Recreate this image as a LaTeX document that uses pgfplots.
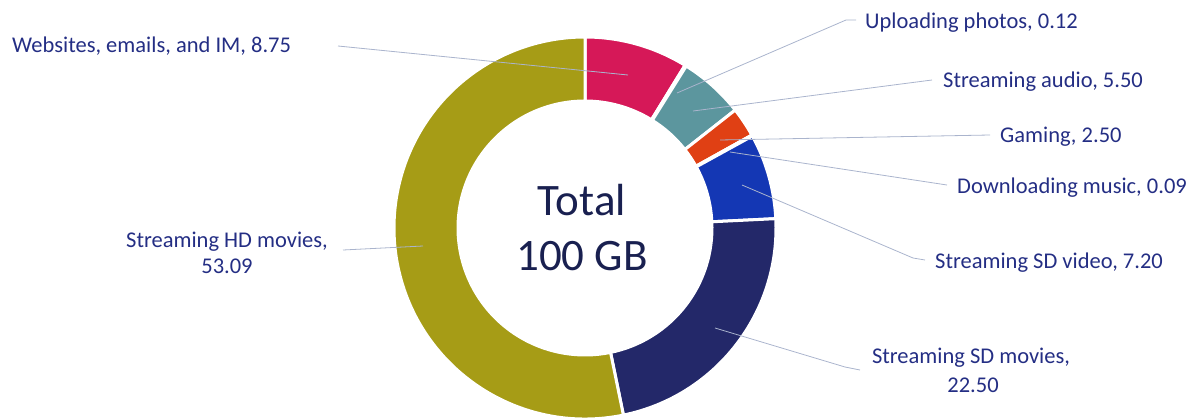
\documentclass[border=0pt]{standalone}
\usepackage{fontspec}
\setmainfont{Carlito}
\usepackage{pgfplots}
\usepackage{pgfplotstable}
\pgfplotsset{compat=1.18}

\definecolor{cweb}{RGB}{214,24,88}
\definecolor{cupl}{RGB}{90,110,160}
\definecolor{caud}{RGB}{92,150,158}
\definecolor{cgam}{RGB}{224,64,20}
\definecolor{cdl}{RGB}{40,60,150}
\definecolor{csdv}{RGB}{20,55,180}
\definecolor{csdm}{RGB}{35,40,105}
\definecolor{chd}{RGB}{166,156,22}
\definecolor{labc}{RGB}{36,46,132}
\definecolor{ctr}{RGB}{25,32,80}
\definecolor{leader}{RGB}{170,180,205}

% share of the 100 GB, clockwise from 12 o'clock
\pgfplotstableread{
value col
8.75  cweb
0.12  cupl
5.50  caud
2.50  cgam
0.09  cdl
7.20  csdv
22.50 csdm
53.09 chd
}\usage

\newcommand\lab{\fontsize{22.5bp}{24bp}\selectfont\color{labc}}

\begin{document}
\begin{tikzpicture}
\begin{axis}[
  name=donut,
  width=1198bp, height=419bp, scale only axis,
  xmin=0, xmax=1198, ymin=0, ymax=419, y dir=reverse,
  hide axis, clip=false,
]
\pgfplotstablegetrowsof{\usage}
\pgfmathtruncatemacro\lastrow{\pgfplotsretval-1}
\gdef\total{0}
\foreach \i in {0,...,\lastrow}{
  \pgfplotstablegetelem{\i}{value}\of\usage
  \pgfmathparse{\total+\pgfplotsretval}\xdef\total{\pgfmathresult}
}
\gdef\cum{0}
\foreach \i in {0,...,\lastrow}{
  \pgfplotstablegetelem{\i}{value}\of\usage
  \let\v\pgfplotsretval
  \pgfmathsetmacro\a{90-\cum/\total*360}
  \pgfmathsetmacro\b{90-(\cum+\v)/\total*360}
  \pgfmathparse{\cum+\v}\xdef\cum{\pgfmathresult}
  \pgfplotstablegetelem{\i}{col}\of\usage
  \edef\temp{\noexpand\filldraw[fill=\pgfplotsretval, draw=white, line width=3bp, line join=miter]
    ([shift={(\a:191bp)}]axis cs:585,228) arc[start angle=\a, end angle=\b, radius=191bp]
    -- ([shift={(\b:127bp)}]axis cs:585,228) arc[start angle=\b, end angle=\a, radius=127bp] -- cycle;}
  \temp
}

% leader lines
\draw[leader, line width=0.8bp] (axis cs:338,46) -- (axis cs:628,75);
\draw[leader, line width=0.8bp] (axis cs:856,20) -- (axis cs:846,20) -- (axis cs:677,93);
\draw[leader, line width=0.8bp] (axis cs:932,80) -- (axis cs:693,111);
\draw[leader, line width=0.8bp] (axis cs:990,135) -- (axis cs:720,140);
\draw[leader, line width=0.8bp] (axis cs:947,185) -- (axis cs:730,152);
\draw[leader, line width=0.8bp] (axis cs:925,260) -- (axis cs:913,258) -- (axis cs:742,185);
\draw[leader, line width=0.8bp] (axis cs:860,370) -- (axis cs:845,367) -- (axis cs:715,328);
\draw[leader, line width=0.8bp] (axis cs:343,250) -- (axis cs:423,246);

% labels
\node[anchor=base west, inner sep=0pt] at (axis cs:12,53) {\lab Websites, emails, and IM, 8.75};
\node[anchor=base west, inner sep=0pt] at (axis cs:865,29) {\lab Uploading photos, 0.12};
\node[anchor=base west, inner sep=0pt] at (axis cs:943,88) {\lab Streaming audio, 5.50};
\node[anchor=base west, inner sep=0pt] at (axis cs:1000,142) {\lab Gaming, 2.50};
\node[anchor=base west, inner sep=0pt] at (axis cs:957,193) {\lab Downloading music, 0.09};
\node[anchor=base west, inner sep=0pt] at (axis cs:935,268) {\lab Streaming SD video, 7.20};
\node[anchor=base, inner sep=0pt] at (axis cs:971,363) {\lab Streaming SD movies,};
\node[anchor=base, inner sep=0pt] at (axis cs:973,392) {\lab 22.50};
\node[anchor=base, inner sep=0pt] at (axis cs:227,247) {\lab Streaming HD movies,};
\node[anchor=base, inner sep=0pt] at (axis cs:227,273) {\lab 53.09};

% centre
\node[anchor=base, inner sep=0pt, text=ctr] at (axis cs:582,215) {\fontsize{45bp}{48bp}\selectfont Total};
\node[anchor=base, inner sep=0pt, text=ctr] at (axis cs:582,270) {\fontsize{45bp}{48bp}\selectfont 100 GB};
\end{axis}
\pgfresetboundingbox
\useasboundingbox (donut.south west) rectangle (donut.north east);
\end{tikzpicture}
\end{document}
